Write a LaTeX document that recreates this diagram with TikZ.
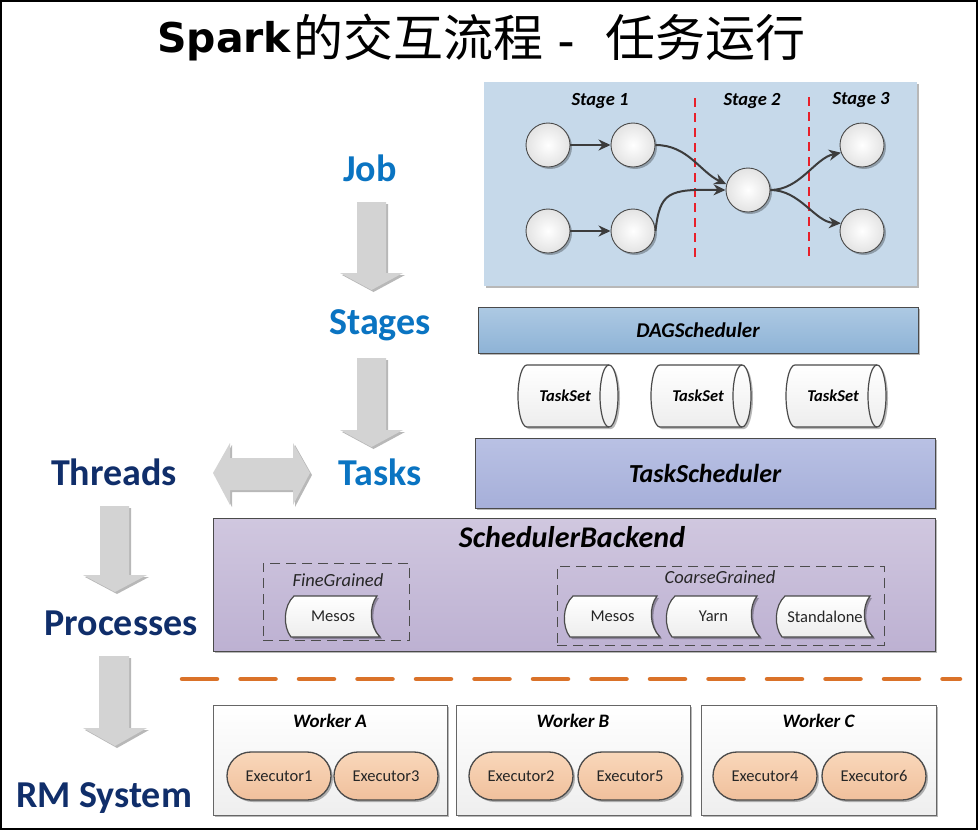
\documentclass[tikz,border=0pt]{standalone}
\usepackage{fontspec}
\setmainfont{Carlito}
\newfontfamily\cjk{Noto Sans CJK SC}
\newfontfamily\dejavu{DejaVu Sans}
\usetikzlibrary{shapes.geometric,shadows,arrows.meta,calc}

\definecolor{jobblue}{HTML}{0A74C2}
\definecolor{navy}{HTML}{102E6A}
\definecolor{panelblue}{HTML}{C6D9EA}
\definecolor{dagtop}{HTML}{ADC9E3}
\definecolor{dagbot}{HTML}{8EB3D6}
\definecolor{tstop}{HTML}{B9C1E4}
\definecolor{tsbot}{HTML}{A6AFD9}
\definecolor{sbtop}{HTML}{D0C7DF}
\definecolor{sbbot}{HTML}{BDB1D2}
\definecolor{exectop}{HTML}{F9D7BA}
\definecolor{execbot}{HTML}{F0C09C}
\definecolor{sepor}{HTML}{DA7229}
\definecolor{arrowgray}{HTML}{D3D3D3}
\definecolor{bordergray}{HTML}{4A4A4A}
\definecolor{dagdark}{HTML}{3C3C3C}
\definecolor{cutred}{HTML}{E8202A}

\tikzset{
  every node/.style={inner sep=0pt},
  gshadow/.style={drop shadow={opacity=0.28, shadow xshift=2pt, shadow yshift=-2pt, fill=black}},
  bigblue/.style={font=\bfseries\fontsize{38}{40}\selectfont, text=jobblue, anchor=base},
  bignavy/.style={font=\bfseries\fontsize{38}{40}\selectfont, text=navy, anchor=base},
  blockarrow/.style={fill=arrowgray, draw=none, gshadow},
  dagnode/.style={circle, minimum size=44pt, draw=bordergray, line width=0.9pt, inner color=white, outer color=gray!22, gshadow},
  dagarrow/.style={draw=dagdark, line width=2pt, -{Stealth[length=12pt,width=11pt]}},
  stagelab/.style={font=\bfseries\itshape\fontsize{18.5}{20}\selectfont},
  cutline/.style={draw=cutred, dash pattern=on 9pt off 6pt, line width=1.3pt},
  dagbox/.style={draw=bordergray, line width=0.8pt, top color=dagtop, bottom color=dagbot, gshadow,
    minimum width=440pt, minimum height=46pt, font=\bfseries\itshape\fontsize{21}{24}\selectfont},
  tsbox/.style={draw=bordergray, line width=0.8pt, top color=tstop, bottom color=tsbot, gshadow,
    minimum width=460pt, minimum height=70pt, font=\bfseries\itshape\fontsize{26}{28}\selectfont},
  sbbox/.style={draw=bordergray, line width=0.8pt, top color=sbtop, bottom color=sbbot, gshadow,
    minimum width=722pt, minimum height=133pt},
  sbtitle/.style={font=\bfseries\itshape\fontsize{30}{32}\selectfont},
  cylstyle/.style={draw=bordergray, line width=1.2pt, top color=white, bottom color=gray!14, gshadow},
  cyltext/.style={font=\bfseries\itshape\fontsize{16.5}{18}\selectfont},
  tapestyle/.style={draw=bordergray, line width=1.2pt, top color=white, bottom color=gray!14, gshadow},
  tapetext/.style={font=\fontsize{16.5}{18}\selectfont, text=black!85},
  dashbox/.style={draw=black!70, dash pattern=on 10pt off 6pt, line width=1pt},
  grainlab/.style={font=\itshape\fontsize{18.5}{20}\selectfont, text=black!85},
  workerbox/.style={draw=black!60, line width=0.8pt, top color=white, bottom color=gray!13, gshadow,
    minimum height=110pt},
  workerlab/.style={font=\bfseries\itshape\fontsize{19}{21}\selectfont},
  execpill/.style={draw=bordergray, line width=1.3pt, rounded corners=23.9pt, top color=exectop, bottom color=execbot,
    minimum width=104pt, minimum height=48pt, font=\fontsize{16.5}{18}\selectfont, text=black!85, gshadow},
}

\newcommand\tasksetcyl[4]{%
  \draw[cylstyle] (#2-41,#3-31) arc[start angle=90, end angle=270, x radius=9pt, y radius=31pt]
     -- (#2+41,#3+31) arc[start angle=-90, end angle=90, x radius=9pt, y radius=31pt] -- cycle;
  \draw[draw=bordergray, line width=1.2pt] (#2+41,#3-31) arc[start angle=90, end angle=270, x radius=9pt, y radius=31pt];
  \node[cyltext] (#1) at (#2-3,#3) {#4};
}
\newcommand\tapebox[4]{%
  \draw[tapestyle] (#2+8,596) -- (#3-3,596) .. controls (#3-11,606) and (#3-11,626) .. (#3,637)
     -- (#2+5,637) .. controls (#2-3,627) and (#2-3,606) .. (#2+8,596) -- cycle;
  \node[tapetext] (#1) at ({(#2+#3)/2},616.5) {#4};
}

\begin{document}
\begin{tikzpicture}[x=1pt, y=-1pt]
\useasboundingbox (0,0) rectangle (978,830);
\fill[white] (0,0) rectangle (978,830);

% title
\node[anchor=base west, font=\dejavu\bfseries\fontsize{41}{44}\selectfont] (tspark) at (157,52) {Spark};
\node[anchor=base west, font=\cjk\fontsize{50}{54}\selectfont] (tcjk1) at (293,56) {的交互流程};
\node[anchor=base, font=\dejavu\bfseries\fontsize{32}{36}\selectfont] (tdash) at (566,53) {–};
\node[anchor=base west, font=\cjk\fontsize{50}{54}\selectfont] (tcjk2) at (605,56) {任务运行};

% job panel
\node[fill=panelblue, minimum width=433pt, minimum height=204pt, gshadow] (jobpanel) at (700.5,184) {};
\node[stagelab] (s1) at (600,101) {Stage 1};
\node[stagelab] (s2) at (752,101) {Stage 2};
\node[stagelab] (s3) at (861,100) {Stage 3};
\coordinate (cut1a) at (695,98); \coordinate (cut1b) at (695,260);
\coordinate (cut2a) at (809,97); \coordinate (cut2b) at (809,257);
\draw[cutline] (cut1a) -- (cut1b);
\draw[cutline] (cut2a) -- (cut2b);
\node[dagnode] (c1) at (548,145) {};
\node[dagnode] (c2) at (633,145) {};
\node[dagnode] (c3) at (548,231) {};
\node[dagnode] (c4) at (633,231) {};
\node[dagnode] (c5) at (748,190) {};
\node[dagnode] (c6) at (862,145) {};
\node[dagnode] (c7) at (862,231) {};
\draw[dagarrow] (c1) -- (c2);
\draw[dagarrow] (c3) -- (c4);
\draw[dagarrow] (c2.east) .. controls (688,145) and (700,172) .. (c5.165);
\draw[dagarrow] (c4.east) .. controls (660,192) and (668,189) .. (c5.west);
\draw[dagarrow] (c5.east) .. controls (800,190) and (815,158) .. (c6.200);
\draw[dagarrow] (c5.east) .. controls (800,190) and (815,222) .. (c7.160);

% schedulers
\node[dagbox] (dag) at (698,330) {DAGScheduler};
\tasksetcyl{ts1}{568}{396}{TaskSet}
\tasksetcyl{ts2}{701}{396}{TaskSet}
\tasksetcyl{ts3}{836}{396}{TaskSet}
\node[tsbox] (tsch) at (705,473) {TaskScheduler};

% scheduler backend
\node[sbbox] (sb) at (574,584.5) {};
\node[sbtitle] (sbt) at (572,537) {SchedulerBackend};
\node[dashbox, minimum width=146pt, minimum height=77pt] (fine) at (336,601.5) {};
\node[dashbox, minimum width=327pt, minimum height=79pt] (coarse) at (720.5,605.5) {};
\node[grainlab] (finel) at (338,580) {FineGrained};
\node[grainlab] (coarsel) at (720,577) {CoarseGrained};
\tapebox{fmesos}{286}{380}{Mesos}
\tapebox{cmesos}{565}{660}{Mesos}
\tapebox{cyarn}{667}{760}{Yarn}
\tapebox{cstand}{777}{873}{Standalone}

% separator
\coordinate (sepL) at (182,679); \coordinate (sepR) at (960,679);
\draw[sepor, line width=4.5pt, line cap=round, dash pattern=on 35pt off 23.5pt] (sepL) -- (sepR);

% workers
\node[workerbox, minimum width=234pt] (wa) at (330,760) {};
\node[workerbox, minimum width=234pt] (wb) at (573,760) {};
\node[workerbox, minimum width=235pt] (wc) at (818.5,760) {};
\node[workerlab] (wal) at (330,721) {Worker A};
\node[workerlab] (wbl) at (573,721) {Worker B};
\node[workerlab] (wcl) at (818.5,721) {Worker C};
\node[execpill] (e1) at (279,776) {Executor1};
\node[execpill] (e3) at (386,776) {Executor3};
\node[execpill] (e2) at (521,776) {Executor2};
\node[execpill] (e5) at (630,776) {Executor5};
\node[execpill] (e4) at (765,776) {Executor4};
\node[execpill] (e6) at (874,776) {Executor6};

% left labels
\node[bigblue] (job) at (370,181) {Job};
\node[bigblue] (stages) at (380,334) {Stages};
\node[bigblue] (tasks) at (380,485) {Tasks};
\node[bignavy] (threads) at (114,485) {Threads};
\node[bignavy] (procs) at (121,635) {Processes};
\node[bignavy] (rms) at (104,807) {RM System};

% block arrows
\path[blockarrow] (357,202) -- (386,202) -- (386,273) -- (403,273) -- (371.5,290) -- (340,273) -- (357,273) -- cycle;
\path[blockarrow] (357,358) -- (386,358) -- (386,430) -- (403,430) -- (371.5,447) -- (340,430) -- (357,430) -- cycle;
\path[blockarrow] (100,506) -- (129,506) -- (129,575) -- (147,575) -- (115,592) -- (83,575) -- (100,575) -- cycle;
\path[blockarrow] (99,656) -- (129,656) -- (129,728) -- (147,728) -- (115,746) -- (83,728) -- (99,728) -- cycle;
\path[blockarrow] (213,473) -- (230,443) -- (230,458) -- (293,458) -- (293,443) -- (310,473) -- (293,505) -- (293,490) -- (230,490) -- (230,505) -- cycle;

% frame
\draw[line width=2pt] (1,1) rectangle (977,829);
\end{tikzpicture}
\end{document}
